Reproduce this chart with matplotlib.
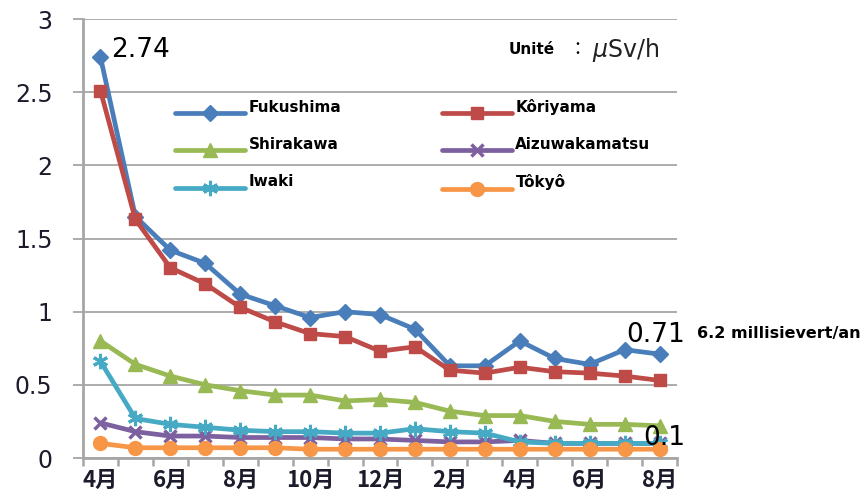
import matplotlib
matplotlib.use("Agg")
import matplotlib.pyplot as plt
from matplotlib.legend_handler import HandlerLine2D
import numpy as np

plt.rcParams['font.family'] = ['DejaVu Sans', 'Noto Sans CJK JP']

months = ["4月", "5月", "6月", "7月", "8月", "9月", "10月", "11月", "12月",
          "1月", "2月", "3月", "4月", "5月", "6月", "7月", "8月"]
tick_labels = ["4月", "", "6月", "", "8月", "", "10月", "", "12月",
               "", "2月", "", "4月", "", "6月", "", "8月"]

fukushima = [2.74, 1.65, 1.42, 1.33, 1.12, 1.04, 0.96, 1.00, 0.98, 0.88, 0.63, 0.63, 0.80, 0.68, 0.64, 0.74, 0.71]
koriyama = [2.51, 1.63, 1.30, 1.19, 1.03, 0.93, 0.85, 0.83, 0.73, 0.76, 0.60, 0.58, 0.62, 0.59, 0.58, 0.56, 0.53]
shirakawa = [0.80, 0.64, 0.56, 0.50, 0.46, 0.43, 0.43, 0.39, 0.40, 0.38, 0.32, 0.29, 0.29, 0.25, 0.23, 0.23, 0.22]
aizuwakamatsu = [0.24, 0.18, 0.15, 0.15, 0.14, 0.14, 0.14, 0.13, 0.13, 0.12, 0.11, 0.11, 0.12, 0.10, 0.10, 0.10, 0.10]
iwaki = [0.66, 0.27, 0.23, 0.21, 0.19, 0.18, 0.18, 0.17, 0.17, 0.20, 0.18, 0.17, 0.11, 0.10, 0.10, 0.10, 0.10]
tokyo = [0.10, 0.07, 0.07, 0.07, 0.07, 0.07, 0.06, 0.06, 0.06, 0.06, 0.06, 0.06, 0.06, 0.06, 0.06, 0.06, 0.06]

series = [
    ("Fukushima", fukushima, "#4A7EBB", dict(marker="D", markersize=8)),
    ("Kôriyama", koriyama, "#BE4B48", dict(marker="s", markersize=9)),
    ("Shirakawa", shirakawa, "#98B954", dict(marker="^", markersize=10)),
    ("Aizuwakamatsu", aizuwakamatsu, "#7D60A0", dict(marker="x", markersize=9, markeredgewidth=2.5)),
    ("Iwaki", iwaki, "#46AAC5", dict(marker=(6, 2, 0), markersize=11, markeredgewidth=2.2)),
    ("Tôkyô", tokyo, "#F79646", dict(marker="o", markersize=10)),
]


class ShiftedLine(HandlerLine2D):
    def create_artists(self, legend, orig_handle, xdescent, ydescent, width, height, fontsize, trans):
        arts = super().create_artists(legend, orig_handle, xdescent, ydescent, width, height, fontsize, trans)
        for a in arts:
            a.set_ydata(np.asarray(a.get_ydata()) - 5)
        return arts


fig = plt.figure(figsize=(8.62, 4.99), dpi=100)
ax = fig.add_axes([83/862, 1-458/499, (677-83)/862, (458-19)/499])

x = np.arange(len(months))
handles = {}
for name, vals, col, mk in series:
    h, = ax.plot(x, vals, color=col, linewidth=3.4, markerfacecolor=col,
                 markeredgecolor=col, label=name, solid_capstyle="round", **mk)
    handles[name] = h

ax.set_xlim(-0.5, len(months) - 0.5)
ax.set_ylim(0, 3)
ax.set_yticks(np.arange(0, 3.01, 0.5))
ax.set_yticklabels(["0", "0.5", "1", "1.5", "2", "2.5", "3"], fontsize=17, color="#1b1b2b")
ax.yaxis.grid(True, color="#A6A6A6", linewidth=1.3)
ax.set_axisbelow(True)
ax.tick_params(axis="y", length=7, width=1.3, color="#A6A6A6", pad=15)

ax.set_xticks(x)
ax.set_xticklabels(tick_labels, fontsize=16, fontweight="bold", family=['Noto Sans CJK JP'],
                   color="#1b1b2b")
ax.tick_params(axis="x", length=0, pad=8)
ax.set_xticks(np.arange(-0.5, len(months), 1), minor=True)
ax.tick_params(axis="x", which="minor", length=6, width=1.8, color="#A6A6A6")

for s in ["top", "right"]:
    ax.spines[s].set_visible(False)
for s in ["left", "bottom"]:
    ax.spines[s].set_color("#A6A6A6")
    ax.spines[s].set_linewidth(2)

order = ["Fukushima", "Shirakawa", "Iwaki", "Kôriyama", "Aizuwakamatsu", "Tôkyô"]
leg = ax.legend([handles[n] for n in order], order, ncol=2, frameon=False,
                loc="upper left", bbox_to_anchor=(0.132, 0.85),
                handlelength=4.6, labelspacing=1.45, columnspacing=6.6,
                handletextpad=0.2, handler_map={matplotlib.lines.Line2D: ShiftedLine()},
                prop=dict(family="DejaVu Sans", weight="bold", size=11))

ax.annotate("2.74", xy=(x[0], fukushima[0]), xytext=(8, 5), textcoords="offset points",
            fontsize=19, ha="left", va="center")
ax.annotate(f"{fukushima[-1]:.2f}", xy=(x[-1], fukushima[-1]), xytext=(-24, 14), textcoords="offset points",
            fontsize=19, ha="left", va="center")
ax.annotate("0.1", xy=(x[-1], tokyo[-1]), xytext=(-12, 8), textcoords="offset points",
            fontsize=19, ha="left", va="center")
ax.annotate("6.2 millisievert/an", xy=(x[-1], fukushima[-1]), xytext=(27, 15), textcoords="offset points",
            fontsize=11.5, ha="left", va="center", fontweight="bold",
            annotation_clip=False)

fig.text(509/862, 1-50/499, "Unité", fontsize=11, fontweight="bold",
         ha="left", va="center")
fig.text(568/862, 1-50/499, "：", fontsize=13, family="Noto Sans CJK JP", ha="left", va="center")
fig.text(592/862, 1-50/499, "$\\mu$Sv/h", fontsize=17, family="DejaVu Sans", ha="left", va="center",
         color="#222222")

fig.savefig("out.png", dpi=100)
